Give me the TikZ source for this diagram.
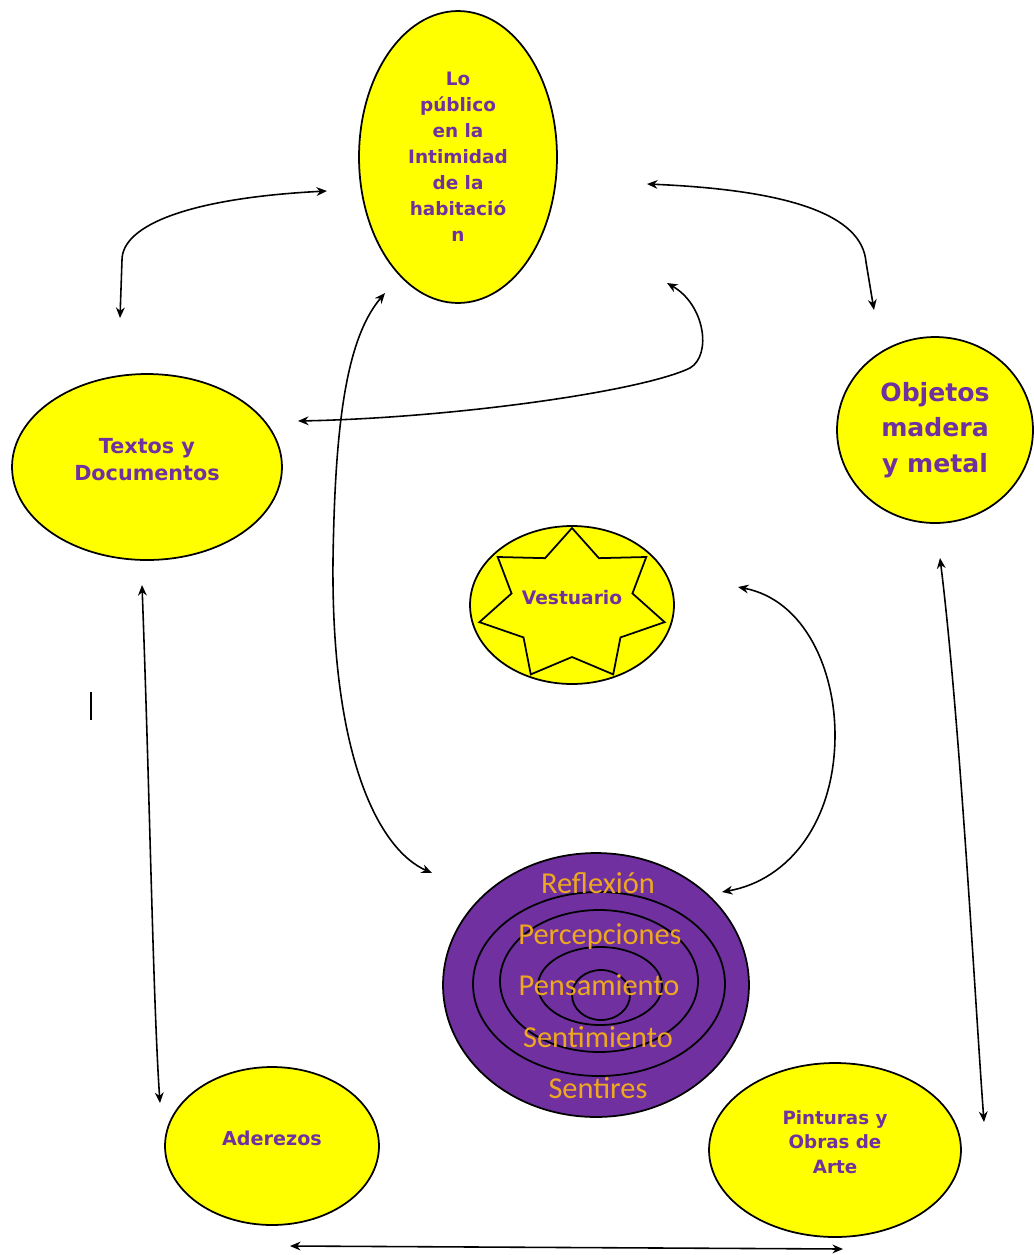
\documentclass[tikz,border=0pt]{standalone}
\usepackage{fontspec}
\newfontfamily\globofont{DejaVu Sans}
\newfontfamily\anillofont{Carlito}
\usetikzlibrary{shapes.geometric,arrows.meta,calc}
\definecolor{lila}{RGB}{112,48,160}
\definecolor{oro}{RGB}{238,168,32}
\definecolor{amarillo}{RGB}{255,255,0}
\newcommand{\gf}[2]{\globofont\bfseries\fontsize{#1}{#2}\selectfont}
\tikzset{
  globo/.style={ellipse, draw=black, line width=1pt, fill=amarillo, text=lila, inner sep=0pt, align=center},
  alto/.style={text depth=0.32cm},
  anillo/.style={draw=black, line width=1pt},
  capa/.style={text=oro, inner sep=0pt, font=\anillofont\fontsize{17.3}{20}\selectfont},
  flecha/.style={{Stealth[length=6pt,width=5pt]}-{Stealth[length=6pt,width=5pt]}, line width=0.9pt},
}
\begin{document}
\begin{tikzpicture}[x=0.02cm,y=-0.02cm]
  \useasboundingbox (0,0) rectangle (1034,1255);
  % globos
  \node[globo, minimum width=3.96cm, minimum height=5.84cm, font=\gf{10.5}{14.8}] (habit) at (458,157)
    {Lo\\público\\en la\\Intimidad\\de la\\habitació\\n};
  \node[globo, alto, minimum width=5.4cm, minimum height=3.72cm, font=\gf{11.8}{15.3}] (textos) at (147,467)
    {Textos y\\Documentos};
  \node[globo, minimum width=3.92cm, minimum height=3.72cm, font=\gf{14.3}{20.4}] (objetos) at (935,430)
    {Objetos\\madera\\y metal};
  \node[globo, alto, minimum width=4.08cm, minimum height=3.16cm, font=\gf{10.6}{14}] (vest) at (572,605)
    {Vestuario};
  \draw[line width=1pt, shift={(vest.center)}] plot[samples at={0,1,...,13}, variable=\j]
    ({(mod(\j,2)==0 ? 95 : 62)*cos(270+\j*180/7)}, {(mod(\j,2)==0 ? 77 : 52)*sin(270+\j*180/7)}) -- cycle;
  \node[globo, alto, minimum width=4.28cm, minimum height=3.16cm, font=\gf{10.9}{14}] (aderezos) at (272,1146)
    {Aderezos};
  \node[globo, alto, minimum width=5.04cm, minimum height=3.48cm, font=\gf{10.4}{14}] (pinturas) at (835,1150)
    {Pinturas y\\Obras de\\Arte};
  % anillos
  \node[ellipse, anillo, fill=lila, minimum width=6.12cm, minimum height=5.28cm, inner sep=0pt] (mente) at (596,985) {};
  \draw[anillo] (599,984) ellipse (126 and 92);
  \draw[anillo] (599,981) ellipse (99 and 71);
  \draw[anillo] (600,986) ellipse (62 and 39);
  \draw[anillo] (601,995) ellipse (29 and 25);
  \node[capa] (reflexion) at (598,883) {Reflexión};
  \node[capa] (percep) at (600,936) {Percepciones};
  \node[capa] (pensam) at (599,985) {Pensamiento};
  \node[capa] (sentim) at (598,1037) {Sentimiento};
  \node[capa] (sentires) at (598,1088) {Sentires};
  % marca
  \draw[line width=1.7pt] (91,692) -- (91,720);
  % extremos de flechas
  \coordinate (h1) at (327,191);
  \coordinate (t1) at (120,318);
  \coordinate (h2) at (647,184);
  \coordinate (o1) at (874,310);
  \coordinate (t2) at (298,421);
  \coordinate (h3) at (667,283);
  \coordinate (h4) at (385,293);
  \coordinate (m1) at (432,873);
  \coordinate (v1) at (738,587);
  \coordinate (m2) at (722,892);
  \coordinate (t3) at (142,585);
  \coordinate (a1) at (160,1103);
  \coordinate (o2) at (940,558);
  \coordinate (p1) at (984,1122);
  \coordinate (a2) at (290,1246);
  \coordinate (p2) at (843,1249);
  \begin{scope}[flecha]
    \draw (h1) .. controls (190,198) and (122,225) .. (122,260) -- (t1);
    \draw (h2) .. controls (790,190) and (862,215) .. (866,262) -- (o1);
    \draw (t2) .. controls (450,418) and (640,392) .. (690,368) .. controls (712,355) and (705,305) .. (h3);
    \draw (h4) .. controls (345,340) and (335,430) .. (333,560) .. controls (331,760) and (380,850) .. (m1);
    \draw (v1) .. controls (805,600) and (835,670) .. (835,735) .. controls (835,820) and (790,880) .. (m2);
    \draw (t3) .. controls (150,800) and (153,1000) .. (a1);
    \draw (o2) .. controls (960,720) and (975,1000) .. (p1);
    \draw (a2) -- (p2);
  \end{scope}
\end{tikzpicture}
\end{document}
